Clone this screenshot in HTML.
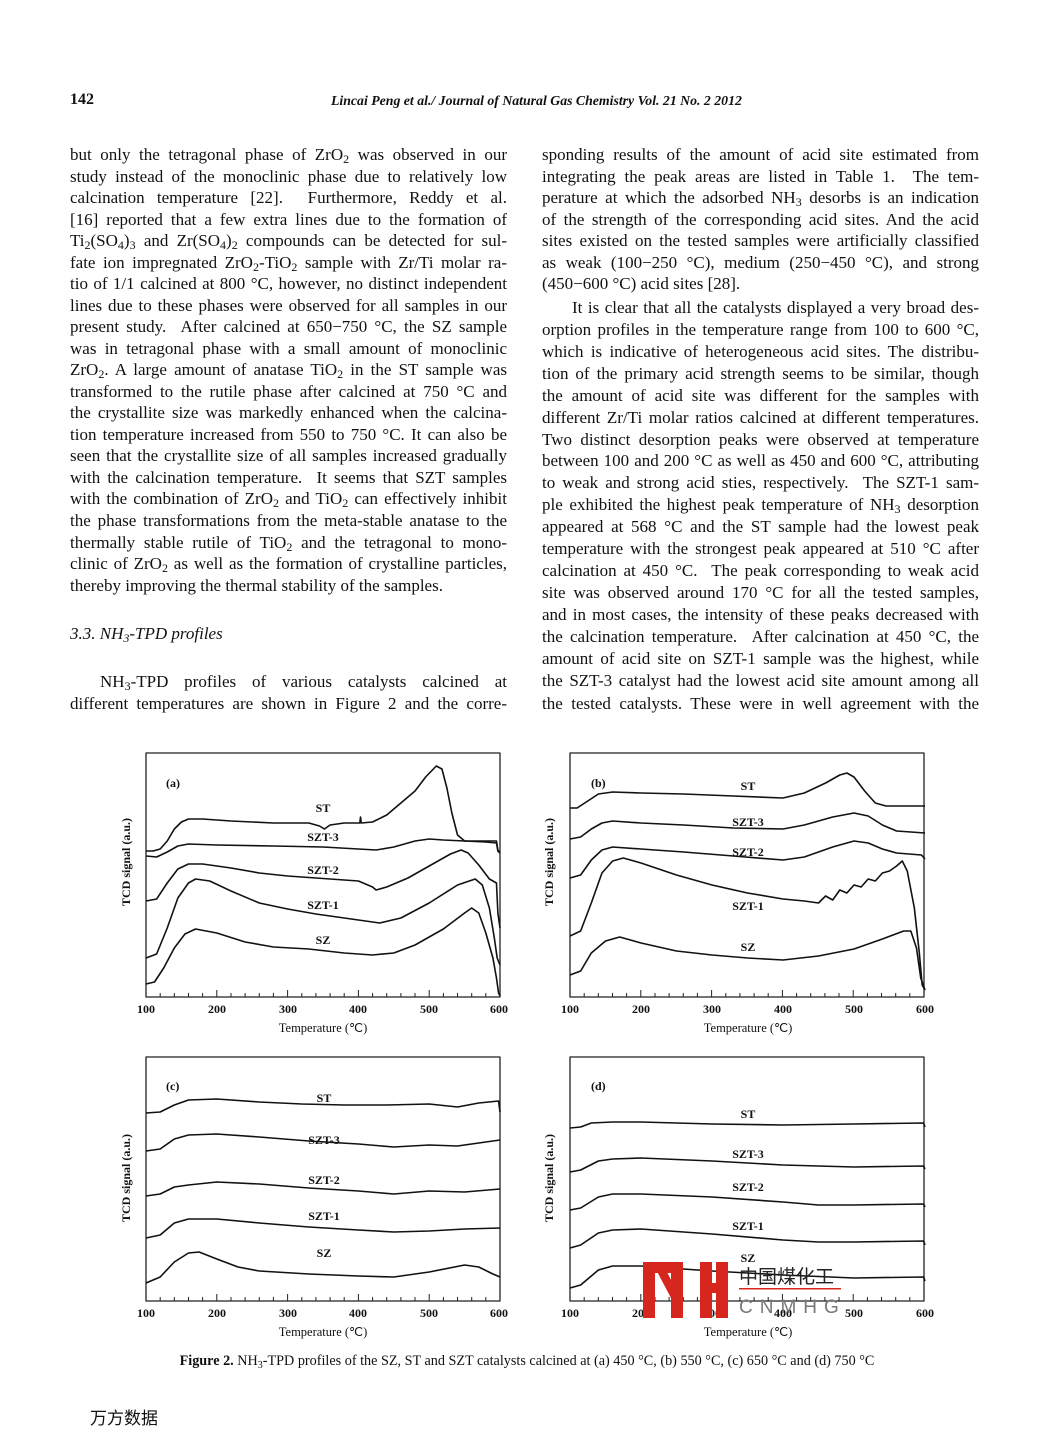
<!DOCTYPE html>
<html><head><meta charset="utf-8">
<style>
body{margin:0;background:#fff;}
#pg{position:relative;width:1043px;height:1451px;overflow:hidden;background:#fff;font-family:"Liberation Serif","Noto Serif CJK SC",serif;color:#111;}
.l{position:absolute;width:437px;font-size:17px;line-height:22px;height:22px;text-align:justify;text-align-last:justify;white-space:nowrap;}
.L{left:70px}.R{left:542px}
.e{text-align-last:left}
sub{font-size:12px;line-height:0;vertical-align:-3px}
.t{position:absolute;white-space:nowrap}
</style></head><body><div id="pg">
<div class="t" style="left:70px;top:91px;font-size:16px;font-weight:bold">142</div>
<div class="t" style="left:331px;top:93px;font-size:13.8px;font-style:italic;font-weight:bold">Lincai Peng et al./ Journal of Natural Gas Chemistry Vol. 21 No. 2 2012</div>

<div class="l L" style="top:144px">but only the tetragonal phase of ZrO<sub>2</sub> was observed in our</div>
<div class="l L" style="top:166px">study instead of the monoclinic phase due to relatively low</div>
<div class="l L" style="top:187px">calcination temperature [22]. &nbsp;Furthermore, Reddy et al.</div>
<div class="l L" style="top:209px">[16] reported that a few extra lines due to the formation of</div>
<div class="l L" style="top:230px">Ti<sub>2</sub>(SO<sub>4</sub>)<sub>3</sub> and Zr(SO<sub>4</sub>)<sub>2</sub> compounds can be detected for sul-</div>
<div class="l L" style="top:252px">fate ion impregnated ZrO<sub>2</sub>-TiO<sub>2</sub> sample with Zr/Ti molar ra-</div>
<div class="l L" style="top:273px">tio of 1/1 calcined at 800 °C, however, no distinct independent</div>
<div class="l L" style="top:295px">lines due to these phases were observed for all samples in our</div>
<div class="l L" style="top:316px">present study. &nbsp;After calcined at 650−750 °C, the SZ sample</div>
<div class="l L" style="top:338px">was in tetragonal phase with a small amount of monoclinic</div>
<div class="l L" style="top:359px">ZrO<sub>2</sub>. A large amount of anatase TiO<sub>2</sub> in the ST sample was</div>
<div class="l L" style="top:381px">transformed to the rutile phase after calcined at 750 °C and</div>
<div class="l L" style="top:402px">the crystallite size was markedly enhanced when the calcina-</div>
<div class="l L" style="top:424px">tion temperature increased from 550 to 750 °C. It can also be</div>
<div class="l L" style="top:445px">seen that the crystallite size of all samples increased gradually</div>
<div class="l L" style="top:467px">with the calcination temperature. &nbsp;It seems that SZT samples</div>
<div class="l L" style="top:488px">with the combination of ZrO<sub>2</sub> and TiO<sub>2</sub> can effectively inhibit</div>
<div class="l L" style="top:510px">the phase transformations from the meta-stable anatase to the</div>
<div class="l L" style="top:532px">thermally stable rutile of TiO<sub>2</sub> and the tetragonal to mono-</div>
<div class="l L" style="top:553px">clinic of ZrO<sub>2</sub> as well as the formation of crystalline particles,</div>
<div class="l L e" style="top:575px">thereby improving the thermal stability of the samples.</div>
<div class="l L e" style="top:623px;font-style:italic">3.3. NH<sub>3</sub>-TPD profiles</div>
<div class="l L" style="top:671px;padding-left:30px;width:407px">NH<sub>3</sub>-TPD profiles of various catalysts calcined at</div>
<div class="l L" style="top:693px">different temperatures are shown in Figure 2 and the corre-</div>

<div class="l R" style="top:144px">sponding results of the amount of acid site estimated from</div>
<div class="l R" style="top:166px">integrating the peak areas are listed in Table 1. &nbsp;The tem-</div>
<div class="l R" style="top:187px">perature at which the adsorbed NH<sub>3</sub> desorbs is an indication</div>
<div class="l R" style="top:209px">of the strength of the corresponding acid sites. And the acid</div>
<div class="l R" style="top:230px">sites existed on the tested samples were artificially classified</div>
<div class="l R" style="top:252px">as weak (100−250 °C), medium (250−450 °C), and strong</div>
<div class="l R e" style="top:273px">(450−600 °C) acid sites [28].</div>
<div class="l R" style="top:297px;padding-left:30px;width:407px">It is clear that all the catalysts displayed a very broad des-</div>
<div class="l R" style="top:319px">orption profiles in the temperature range from 100 to 600 °C,</div>
<div class="l R" style="top:341px">which is indicative of heterogeneous acid sites. The distribu-</div>
<div class="l R" style="top:363px">tion of the primary acid strength seems to be similar, though</div>
<div class="l R" style="top:385px">the amount of acid site was different for the samples with</div>
<div class="l R" style="top:407px">different Zr/Ti molar ratios calcined at different temperatures.</div>
<div class="l R" style="top:429px">Two distinct desorption peaks were observed at temperature</div>
<div class="l R" style="top:450px">between 100 and 200 °C as well as 450 and 600 °C, attributing</div>
<div class="l R" style="top:472px">to weak and strong acid sties, respectively. &nbsp;The SZT-1 sam-</div>
<div class="l R" style="top:494px">ple exhibited the highest peak temperature of NH<sub>3</sub> desorption</div>
<div class="l R" style="top:516px">appeared at 568 °C and the ST sample had the lowest peak</div>
<div class="l R" style="top:538px">temperature with the strongest peak appeared at 510 °C after</div>
<div class="l R" style="top:560px">calcination at 450 °C. &nbsp;The peak corresponding to weak acid</div>
<div class="l R" style="top:582px">site was observed around 170 °C for all the tested samples,</div>
<div class="l R" style="top:604px">and in most cases, the intensity of these peaks decreased with</div>
<div class="l R" style="top:626px">the calcination temperature. &nbsp;After calcination at 450 °C, the</div>
<div class="l R" style="top:648px">amount of acid site on SZT-1 sample was the highest, while</div>
<div class="l R" style="top:670px">the SZT-3 catalyst had the lowest acid site amount among all</div>
<div class="l R" style="top:693px">the tested catalysts. These were in well agreement with the</div>

<svg style="position:absolute;left:0;top:0" width="1043" height="1451" font-family="Liberation Serif, serif" font-size="12" font-weight="bold" fill="#111">
<defs>
<g id="ax">
<rect x="0" y="0" width="354" height="244" fill="none" stroke="#222" stroke-width="1.3"/>
<path d="M14.2,244v-4M28.3,244v-4M42.5,244v-4M56.6,244v-4M70.8,244v-7M85,244v-4M99.1,244v-4M113.3,244v-4M127.4,244v-4M141.6,244v-7M155.8,244v-4M169.9,244v-4M184.1,244v-4M198.2,244v-4M212.4,244v-7M226.6,244v-4M240.7,244v-4M254.9,244v-4M269,244v-4M283.2,244v-7M297.4,244v-4M311.5,244v-4M325.7,244v-4M339.8,244v-4" stroke="#222" stroke-width="1"/>
</g>
</defs>
<g fill="none" stroke="#111" stroke-width="1.6" stroke-linejoin="round">
<use href="#ax" x="146" y="753"/>
<svg x="146" y="753" width="354" height="244" viewBox="100 0 500 244" preserveAspectRatio="none" overflow="visible">
<polyline vector-effect="non-scaling-stroke" points="100,98 110,98 120,96 130,88 140,76 150,69 160,66 180,66 220,68 280,70 330,70 345,73 352,76 360,72 380,70 402,70 403,64 404,70 420,69 440,62 460,50 480,38 495,24 510,13 518,16 525,35 532,60 540,82 550,88 570,88 595,88 597,97 600,100"/>
<polyline vector-effect="non-scaling-stroke" points="100,103 115,104 130,99 145,93 160,91 200,92 280,93 350,94 400,96 425,97 450,94 480,88 500,86 520,87 550,88 580,89 595,90 597,98 600,100"/>
<polyline vector-effect="non-scaling-stroke" points="100,148 115,146 130,130 145,116 160,111 180,111 220,115 260,120 300,123 360,126 400,128 420,134 425,137 440,134 470,125 500,113 530,101 545,97 555,100 570,112 585,126 595,130 597,160 600,175"/>
<polyline vector-effect="non-scaling-stroke" points="100,205 115,201 130,175 145,145 160,130 170,126 190,128 220,138 260,150 300,156 340,161 400,167 430,170 460,165 500,150 540,132 565,126 575,132 585,155 592,185 596,205 600,212"/>
<polyline vector-effect="non-scaling-stroke" points="100,231 112,229 125,215 140,195 155,181 170,176 200,180 240,189 280,194 330,196 380,200 420,202 450,200 480,192 520,176 550,160 560,155 570,160 580,180 590,205 595,225 598,240 600,243"/>
</svg>
<use href="#ax" x="570" y="753"/>
<svg x="570" y="753" width="355" height="244" viewBox="100 0 500 244" preserveAspectRatio="none" overflow="visible">
<polyline vector-effect="non-scaling-stroke" points="100,55 110,55 125,48 140,41 160,39 200,40 260,41 330,43 400,45 430,40 460,30 480,22 490,20 500,24 515,38 530,50 545,53 600,53"/>
<polyline vector-effect="non-scaling-stroke" points="100,86 115,84 130,76 145,70 160,68 200,70 260,72 330,75 400,76 430,72 470,64 500,60 520,63 540,72 560,78 600,80"/>
<polyline vector-effect="non-scaling-stroke" points="100,125 115,122 130,107 145,97 160,94 200,96 260,99 330,103 400,107 430,104 470,94 500,88 520,90 540,96 560,100 595,102 600,106"/>
<polyline vector-effect="non-scaling-stroke" points="100,183 115,178 130,150 145,120 160,108 175,105 200,110 250,122 300,132 350,140 400,146 430,148 450,150 460,143 470,147 480,137 490,140 500,132 510,134 520,126 530,128 540,120 550,118 560,113 568,108 575,118 585,155 592,200 596,232 600,237"/>
<polyline vector-effect="non-scaling-stroke" points="100,222 115,218 130,200 150,188 170,184 200,190 250,198 300,202 350,205 400,207 450,203 500,196 540,186 570,178 580,178 588,195 594,225 600,237"/>
</svg>
<use href="#ax" x="146" y="1057"/>
<svg x="146" y="1057" width="354" height="244" viewBox="100 0 500 244" preserveAspectRatio="none" overflow="visible">
<polyline vector-effect="non-scaling-stroke" points="100,56 120,55 140,48 160,43 200,42 260,45 320,47 380,48 440,48 500,47 540,50 570,46 598,44 600,55"/>
<polyline vector-effect="non-scaling-stroke" points="100,94 120,92 140,82 160,78 200,77 260,80 330,84 400,87 450,90 500,88 540,89 570,86 600,83"/>
<polyline vector-effect="non-scaling-stroke" points="100,139 120,137 140,130 160,128 200,125 260,127 330,131 400,134 450,137 500,134 550,135 600,132"/>
<polyline vector-effect="non-scaling-stroke" points="100,181 120,178 140,166 160,162 200,162 260,166 330,170 400,173 450,175 500,174 550,172 600,171"/>
<polyline vector-effect="non-scaling-stroke" points="100,226 120,220 140,205 160,196 175,195 200,202 230,210 260,214 330,217 400,219 450,220 500,215 550,208 570,210 590,217 600,220"/>
</svg>
<use href="#ax" x="570" y="1057"/>
<svg x="570" y="1057" width="355" height="244" viewBox="100 0 500 244" preserveAspectRatio="none" overflow="visible">
<polyline vector-effect="non-scaling-stroke" points="100,71 115,70 130,66 160,65 200,65 300,67 400,68 500,67 598,66 600,70"/>
<polyline vector-effect="non-scaling-stroke" points="100,115 115,113 140,104 160,102 200,101 300,104 400,108 500,110 598,109 600,112"/>
<polyline vector-effect="non-scaling-stroke" points="100,153 115,151 140,140 160,137 200,137 300,140 400,145 450,148 500,148 598,147 600,150"/>
<polyline vector-effect="non-scaling-stroke" points="100,191 115,188 140,176 160,173 200,172 300,177 400,183 450,185 500,185 598,184 600,188"/>
<polyline vector-effect="non-scaling-stroke" points="100,231 115,228 140,213 160,209 200,209 300,214 400,218 500,221 598,220 600,224"/>
</svg>
</g>
<g text-anchor="middle">
<text x="323" y="812">ST</text><text x="323" y="841">SZT-3</text><text x="323" y="874">SZT-2</text><text x="323" y="909">SZT-1</text><text x="323" y="944">SZ</text>
<text x="748" y="790">ST</text><text x="748" y="826">SZT-3</text><text x="748" y="856">SZT-2</text><text x="748" y="910">SZT-1</text><text x="748" y="951">SZ</text>
<text x="324" y="1102">ST</text><text x="324" y="1144">SZT-3</text><text x="324" y="1184">SZT-2</text><text x="324" y="1220">SZT-1</text><text x="324" y="1257">SZ</text>
<text x="748" y="1118">ST</text><text x="748" y="1158">SZT-3</text><text x="748" y="1191">SZT-2</text><text x="748" y="1230">SZT-1</text><text x="748" y="1262">SZ</text>
</g>
<g text-anchor="start"><text x="166" y="787">(a)</text><text x="591" y="787">(b)</text><text x="166" y="1090">(c)</text><text x="591" y="1090">(d)</text></g>
<g text-anchor="middle">
<text x="146" y="1013">100</text><text x="217" y="1013">200</text><text x="288" y="1013">300</text><text x="358" y="1013">400</text><text x="429" y="1013">500</text><text x="499" y="1013">600</text>
<text x="570" y="1013">100</text><text x="641" y="1013">200</text><text x="712" y="1013">300</text><text x="783" y="1013">400</text><text x="854" y="1013">500</text><text x="925" y="1013">600</text>
<text x="146" y="1317">100</text><text x="217" y="1317">200</text><text x="288" y="1317">300</text><text x="358" y="1317">400</text><text x="429" y="1317">500</text><text x="499" y="1317">600</text>
<text x="570" y="1317">100</text><text x="641" y="1317">200</text><text x="712" y="1317">300</text><text x="783" y="1317">400</text><text x="854" y="1317">500</text><text x="925" y="1317">600</text>
<g font-weight="normal" font-size="12.5">
<text x="323" y="1032">Temperature (℃)</text><text x="748" y="1032">Temperature (℃)</text>
<text x="323" y="1336">Temperature (℃)</text><text x="748" y="1336">Temperature (℃)</text>
</g>
<text transform="translate(130,862) rotate(-90)">TCD signal (a.u.)</text>
<text transform="translate(553,862) rotate(-90)">TCD signal (a.u.)</text>
<text transform="translate(130,1178) rotate(-90)">TCD signal (a.u.)</text>
<text transform="translate(553,1178) rotate(-90)">TCD signal (a.u.)</text>
</g>
<text x="527" y="1365" text-anchor="middle" font-size="14.2" font-weight="normal"><tspan font-weight="bold">Figure 2.</tspan> NH<tspan font-size="10" dy="3">3</tspan><tspan dy="-3">-TPD profiles of the SZ, ST and SZT catalysts calcined at (a) 450 °C, (b) 550 °C, (c) 650 °C and (d) 750 °C</tspan></text>
<g fill="#d7261e">
<rect x="643" y="1262" width="12" height="56"/><rect x="643" y="1262" width="40" height="11"/>
<rect x="671" y="1262" width="12" height="56"/><polygon points="652,1262 662,1262 676,1290 671,1298"/>
<rect x="700" y="1262" width="12" height="56"/><rect x="716" y="1262" width="12" height="56"/><rect x="700" y="1283" width="28" height="10"/>
<rect x="739" y="1288" width="102" height="1.5"/>
</g>
<text x="739" y="1283" font-size="19" font-weight="normal" fill="#222" font-family="Noto Sans CJK SC, sans-serif">中国煤化工</text>
<text x="739" y="1313" font-size="19" font-weight="normal" fill="#777" letter-spacing="7" font-family="Liberation Sans, sans-serif">CNMHG</text>
<text x="90" y="1424" font-size="17" font-weight="normal" font-family="Noto Sans CJK SC, sans-serif">万方数据</text>
</svg>
</div></body></html>
